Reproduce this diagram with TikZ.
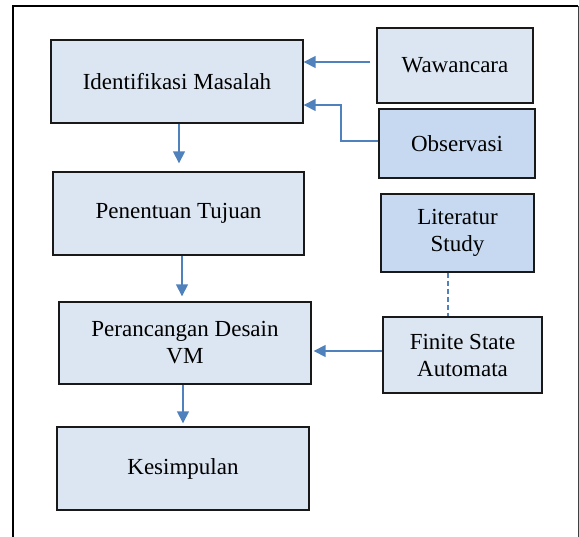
\documentclass[tikz,border=0pt]{standalone}
\usepackage{fontspec}
\setmainfont{Liberation Serif}
\usetikzlibrary{arrows.meta}
\definecolor{boxfill}{HTML}{DCE6F2}
\definecolor{boxfilldark}{HTML}{C6D9F1}
\definecolor{flowblue}{HTML}{4F81BD}
\tikzset{
  stepbox/.style={draw=black!90, line width=1.4pt, fill=boxfill, inner sep=0pt,
    align=center, font=\fontsize{23}{27}\selectfont},
  darkbox/.style={stepbox, fill=boxfilldark},
  flow/.style={draw=flowblue, line width=1.5pt, -{Triangle[length=12pt,width=12pt]}},
  link/.style={draw=flowblue, line width=1.2pt, dash pattern=on 5pt off 3pt},
}
\begin{document}
\begin{tikzpicture}[x=1pt,y=-1pt]
  \useasboundingbox (0,0) rectangle (579,537);
  % open frame
  \draw[line width=1.8pt] (12.7,537) -- (12.7,6) -- (578,6);
  \draw[line width=1pt, black!75] (578,6) -- (578,537);

  % main column
  \node[stepbox, minimum width=252pt, minimum height=83pt] (ident) at (177,81.5) {Identifikasi Masalah};
  \node[stepbox, minimum width=251pt, minimum height=83pt] (tujuan) at (178.5,213.5) {Penentuan Tujuan};
  \node[stepbox, minimum width=252pt, minimum height=82pt] (desain) at (185,343) {Perancangan Desain\\VM};
  \node[stepbox, minimum width=252pt, minimum height=83pt] (simpul) at (183,468.5) {Kesimpulan};

  % side column
  \node[stepbox, minimum width=156pt, minimum height=75pt] (waw) at (455,65.5) {Wawancara};
  \node[darkbox, minimum width=156pt, minimum height=69pt] (obs) at (457,143.5) {Observasi};
  \node[darkbox, minimum width=153pt, minimum height=78pt] (lit) at (457.5,233) {Literatur\\Study};
  \node[stepbox, minimum width=159pt, minimum height=76pt] (fsa) at (462.5,355) {Finite State\\Automata};

  % connectors
  \coordinate (wawout) at ([xshift=-6pt,yshift=3.5pt]waw.west);
  \draw[flow] (wawout) -- (ident.east |- wawout);
  \coordinate (obsout) at ([yshift=2.5pt]obs.west);
  \coordinate (obsbend) at (341,141);
  \coordinate (obsup) at (341,105);
  \draw[flow] (obsout) -- (obsbend) -- (obsup) -- (ident.east |- obsup);

  \draw[flow, shorten >=8pt] ([xshift=2pt]ident.south) -- ([xshift=2pt]ident.south |- tujuan.north);
  \draw[flow, shorten >=5pt] ([xshift=3.5pt]tujuan.south) -- ([xshift=3.5pt]tujuan.south |- desain.north);
  \draw[flow, shorten >=3pt] ([xshift=-2pt]desain.south) -- ([xshift=-2pt]desain.south |- simpul.north);

  \coordinate (fsaout) at ([yshift=4pt]fsa.west);
  \draw[flow, shorten >=2pt] (fsaout) -- (desain.east |- fsaout);

  \coordinate (litdown) at ([xshift=-9.5pt]lit.south);
  \draw[link] (litdown) -- (litdown |- fsa.north);
\end{tikzpicture}
\end{document}
